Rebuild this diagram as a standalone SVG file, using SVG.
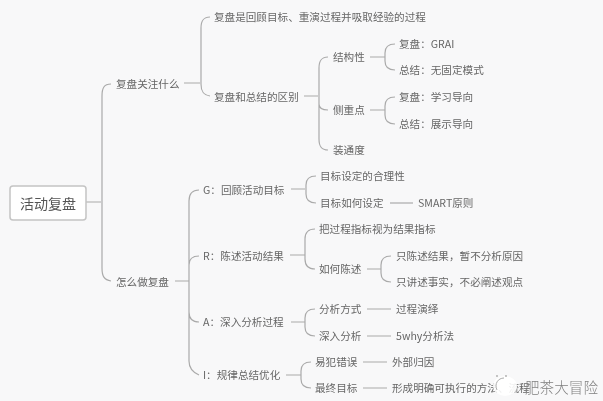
<svg xmlns="http://www.w3.org/2000/svg" width="603" height="401" viewBox="0 0 603 401">
<defs><filter id="soft" x="-5%" y="-5%" width="110%" height="110%"><feGaussianBlur stdDeviation="0.35"/></filter></defs>
<style>
text{font-family:"Noto Sans CJK SC","Noto Sans",sans-serif;font-size:10.6px;fill:#666;dominant-baseline:central;transform:translateY(-2px)}
.root{font-size:14px;fill:#555}
.wm{font-size:14.6px;fill:#808080;font-weight:300}
#connectors path{fill:none;stroke:#aaa;stroke-width:1.2}
#rootbox rect{fill:#fff;stroke:#c4c4c4;stroke-width:1.5}
</style>
<rect width="603" height="401" fill="#f8f8f9"/>
<g filter="url(#soft)">
<g id="connectors">
<path d="M86 202H101M111 84C104 84 102 88 102 96V268C102 276 104 280 111 281"/>
<path d="M184 83H200M210 17C203 17 201 21 201 28V84C201 91 203 95 210 96"/>
<path d="M304 96H318M328 57C321 57 319 61 319 68V139C319 146 321 150 328 150M319 104C319 108 322 110 328 110"/>
<path d="M370 57H385M395 44C388 44 385 47 385 53V61C385 67 388 70 395 70"/>
<path d="M370 110H385M395 97C388 97 385 100 385 106V115C385 121 388 124 395 124"/>
<path d="M175 281H189M199 190C192 190 189 194 189 201V361C189 368 192 372 199 375M189 265C189 259 192 256 199 256M189 312C189 318 192 322 199 322"/>
<path d="M291 189H305M316 176C309 176 306 179 306 185V194C306 200 309 203 316 203"/>
<path d="M390 203H413"/>
<path d="M290 255H305M315 229C308 229 305 232 305 239V259C305 266 308 269 315 269"/>
<path d="M367 269H381M391 256C384 256 381 259 381 265V273C381 279 384 282 391 282"/>
<path d="M291 322H305M315 309C308 309 305 312 305 318V327C305 333 308 336 315 336"/>
<path d="M367 309H391M367 336H391"/>
<path d="M286 375H301M311 362C304 362 301 365 301 371V379C301 385 304 388 311 388"/>
<path d="M363 362H387M363 388H387"/>
</g>
<g id="rootbox"><rect x="10" y="186" width="76" height="34" rx="3"/><text class="root" x="20" y="205">活动复盘</text></g>
<g id="n1"><text x="116" y="85">复盘关注什么</text></g>
<g id="n2"><text x="116" y="283">怎么做复盘</text></g>
<g id="n3"><text x="214" y="18">复盘是回顾目标、重演过程并吸取经验的过程</text></g>
<g id="n4"><text x="214" y="98">复盘和总结的区别</text></g>
<g id="n5"><text x="333" y="58">结构性</text></g>
<g id="n6"><text x="333" y="111">侧重点</text></g>
<g id="n7"><text x="333" y="151">装通度</text></g>
<g id="n8"><text x="399" y="45">复盘&#xFF1A;GRAI</text></g>
<g id="n9"><text x="399" y="71">总结&#xFF1A;无固定模式</text></g>
<g id="n10"><text x="399" y="98">复盘&#xFF1A;学习导向</text></g>
<g id="n11"><text x="399" y="125">总结&#xFF1A;展示导向</text></g>
<g id="n12"><text x="203" y="191">G&#xFF1A;回顾活动目标</text></g>
<g id="n13"><text x="203" y="257">R&#xFF1A;陈述活动结果</text></g>
<g id="n14"><text x="203" y="323">A&#xFF1A;深入分析过程</text></g>
<g id="n15"><text x="203" y="376">I&#xFF1A;规律总结优化</text></g>
<g id="n16"><text x="320" y="177">目标设定的合理性</text></g>
<g id="n17"><text x="320" y="204">目标如何设定</text></g>
<g id="n18"><text x="418" y="204">SMART原则</text></g>
<g id="n19"><text x="319" y="230">把过程指标视为结果指标</text></g>
<g id="n20"><text x="319" y="270">如何陈述</text></g>
<g id="n21"><text x="396" y="257">只陈述结果&#xFF0C;暂不分析原因</text></g>
<g id="n22"><text x="396" y="283">只讲述事实&#xFF0C;不必阐述观点</text></g>
<g id="n23"><text x="319" y="310">分析方式</text></g>
<g id="n24"><text x="319" y="337">深入分析</text></g>
<g id="n25"><text x="396" y="310">过程演绎</text></g>
<g id="n26"><text x="396" y="337">5why分析法</text></g>
<g id="n27"><text x="315" y="363">易犯错误</text></g>
<g id="n28"><text x="315" y="389">最终目标</text></g>
<g id="n29"><text x="392" y="363">外部归因</text></g>
<g id="n30"><text x="392" y="389">形成明确可执行的方法、流程</text></g>
</g>
<g id="watermark">
<ellipse cx="505" cy="386" rx="12" ry="10" fill="#fff" opacity="0.9"/>
<path d="M497 390C494 384 498 378 504 378" fill="none" stroke="#aaa" stroke-width="1"/>
<circle cx="497" cy="376" r="0.9" fill="#aaa"/>
<circle cx="506" cy="376" r="0.9" fill="#aaa"/>
<text class="wm" x="525" y="388">肥茶大冒险</text>
</g>
</svg>
